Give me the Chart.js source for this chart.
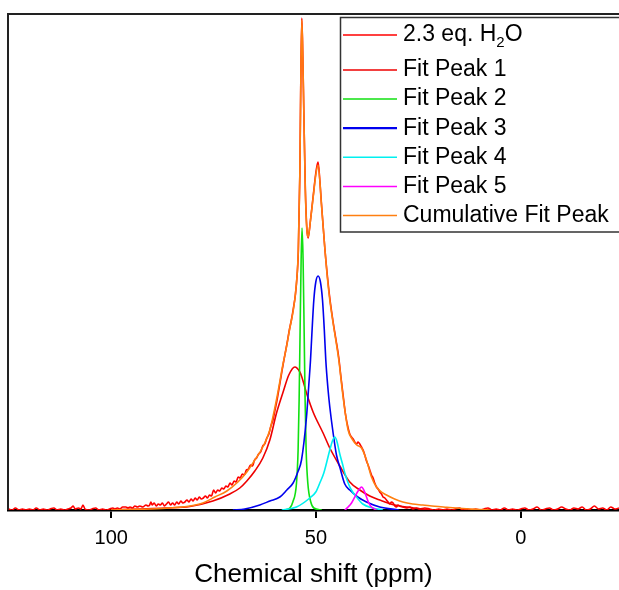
<!DOCTYPE html>
<html>
<head>
<meta charset="utf-8">
<script src="https://cdn.jsdelivr.net/npm/chart.js@4.4.0/dist/chart.umd.min.js"></script>
<style>
  html, body { margin: 0; padding: 0; background: #fff; overflow: hidden; }
  canvas { display: block; }
</style>
</head>
<body>
<canvas id="myChart" width="619" height="590"></canvas>
<script>
// valores (ppm, intensidad en u.a.)
const specPpm = [125.0,124.2,123.4,122.5,121.7,120.8,120.0,119.1,118.3,117.4,
  116.6,115.7,114.9,114.0,113.2,112.3,111.5,110.6,109.8,109.3,
  108.8,108.0,107.4,106.9,106.4,105.5,104.7,103.8,103.0,102.1,
  101.3,100.4,99.6,99.1,98.5,97.9,97.2,96.4,95.9,95.4,
  94.8,94.2,93.6,93.0,92.3,91.5,91.0,90.6,90.3,90.0,
  89.5,89.0,88.5,88.0,87.5,87.0,86.5,86.0,85.5,85.0,
  84.5,84.0,83.5,83.0,82.5,82.0,81.5,81.0,80.5,80.0,
  79.5,79.0,78.5,78.0,77.5,77.0,76.5,76.0,75.5,75.0,
  74.5,74.0,73.5,73.0,72.5,72.0,71.5,71.0,70.5,70.0,
  69.5,69.0,68.5,68.0,67.5,67.0,66.5,66.0,65.5,65.0,
  64.5,64.0,63.5,63.0,62.5,62.0,61.5,61.0,60.5,60.0,
  59.5,59.0,58.5,58.0,57.5,57.0,56.5,56.0,55.5,55.0,
  54.6,54.31,53.94,53.70,53.45,53.21,52.97,52.60,52.23,51.92,
  51.6,51.33,50.70,50.04,49.75,49.48,49.1,48.65,47.84,47.28,
  46.62,45.81,45.1,44.42,43.9,43.37,42.8,42.15,41.74,41.32,
  40.93,40.52,40.10,39.71,39.30,38.88,38.49,38.08,37.66,37.27,
  36.86,36.44,36.05,35.64,35.22,34.83,34.42,34.00,33.61,33.19,
  32.78,32.39,31.97,31.56,31.17,30.75,30.34,29.95,29.53,28.80,
  27.90,27.09,26.36,25.46,24.65,23.43,22.21,21.0,20.0,19.0,
  18.0,17.0,16.0,15.0,14.0,13.0,12.0,11.0,10.0,9.0,
  8.0,7.0,6.0,5.0,4.0,3.0,2.0,1.0,0.0,-1.0,
  -2.0,-3.0,-4.0,-5.0,-6.0,-7.0,-8.0,-9.0,-10.0,-11.0,
  -12.0,-13.0,-14.0,-15.0,-16.0,-17.0,-18.0,-19.0,-20.0,-21.0,
  -22.0,-23.0,-24.0]
const specInt = [1,0,2,0,1,0,1,0,2,0,
  1,0,1,2,0,1,0,1,2,4,
  1,2,1,5,1,0,1,2,0,1,
  0,1,2,1,2,1,3,3,2,3,
  2,4,3,4,3,5,4,5,8,5,
  7,4,6,5,7,4,6,8,5,7,
  5,8,6,9,7,8,10,8,11,9,
  12,10,13,11,12,14,12,15,14,20,
  17,20,19,22,21,24,23,27,25,29,
  28,33,32,36,35,40,41,45,44,50,
  52,56,58,64,66,72,76,84,90,100,
  110,122,134,146,157,168,180,190,202,216,
  235,258,335,430,492,454,400,322,282,272,
  280,290,313,337,344,348,332,306,262,237,
  212,188,170,152,133,115,96,82,76,73,
  71,68,66,68,66,63,60,55,49,45,
  40,35,32,27,23,21,18,16,13,12,
  10,8,6,8,7,4,3,5,4,3,
  2,3,1,2,1,2,1,0,1,0,
  1,0,1,2,0,1,0,1,0,1,
  2,0,1,0,2,0,1,0,1,2,
  0,1,3,0,1,2,0,1,3,1,
  0,2,1,3,0,1,4,1,2,0,
  3,1,2]

const fit1Ppm = [100.07,93.19,86.89,80.79,75.18,71.03,68.59,66.88,64.93,62.97,
  61.26,59.63,58.02,56.63,55.16,53.94,53.45,52.31,50.70,48.26,
  46.62,44.18,41.74,39.30,36.86,34.42,30.75,26.12,22.21]
const fit1Int = [0,1,2,3.5,9,16,22,29,39,52,
  70,97,118,135,143,138,133,117,98,77,
  62,44,28,20,14,10,5,2,0]

const fit2Ppm = [57.85,56.38,55.65,54.75,54.36,54.11,53.87,53.62,53.40,53.14,
  52.89,52.65,52.40,51.99,51.26,50.52,48.57]
const fit2Int = [0,2,8,27,60,110,180,250,282,250,
  180,110,60,27,8,2,0]

const fit3Ppm = [70.30,67.37,63.71,61.26,58.82,57.11,55.58,54.43,53.53,52.31,
  51.75,51.33,51.01,50.52,50.04,49.48,48.91,48.40,47.96,47.60,
  47.04,46.62,45.81,44.99,44.18,42.96,41.74,39.79,37.66,34.42,29.78]
const fit3Int = [0,1,5,9,13,20,27,38,50,93,
  125,150,175,210,228,234,228,210,180,150,
  120,103,77,55,43,26,20,13,8,3,0]

const fit4Ppm = [58.34,54.75,51.50,50.04,49.06,48.08,47.42,46.62,45.89,45.40,
  44.91,44.18,43.45,42.96,42.23,41.49,40.10,38.56,36.12,33.68]
const fit4Int = [0,3,12,18,27,37,47,60,70,73,
  69,56,45,37,28,21,13,6,2,0]

const fit5Ppm = [42.96,42.15,41.32,40.52,39.71,38.88,38.20,37.66,37.10,36.44,35.22]
const fit5Int = [0,3,7,13,19,23,19,13,7,3,0]

const cumPpm = [100.07,95.0,90.55,85.67,80.79,77.62,74.69,71.76,69.07,66.88,
  64.93,62.97,61.26,59.56,58.09,57.11,56.38,55.65,54.92,54.31,
  53.94,53.70,53.45,53.21,52.97,52.60,52.23,51.92,51.33,50.70,
  50.04,49.48,48.65,47.84,47.28,46.62,45.81,44.42,43.37,42.15,
  41.01,40.03,38.88,37.66,36.44,35.22,34.0,32.78,30.8,28.80,
  26.4,23.92,21.0,18.06,15.0,12.45,10.0,7.57]
const cumInt = [0,0.5,1,2,4,7,13,19,28,38,
  50,63,80,112,145,165,182,197,220,260,
  335,428,490,453,400,320,280,273,290,312,
  335,345,305,262,235,210,187,150,113,80,
  70,65,62,50,33,23,18,15,11,8,
  6,5,3.7,2.7,1.7,1,0.4,0]

const seriesLabels = ['2.3 eq. H₂O', 'Fit Peak 1', 'Fit Peak 2', 'Fit Peak 3', 'Fit Peak 4', 'Fit Peak 5', 'Cumulative Fit Peak']
const xTicks = [100, 50, 0]
const xTitle = 'Chemical shift (ppm)'

const fuente = '"Liberation Sans", Arial, sans-serif'

let puntos = function (ppm, inten) {
  return ppm.map((p, i) => ({ x: p, y: inten[i] }))
}

let serie = function (label, ppm, inten, color, orden) {
  return {
    label: label,
    data: puntos(ppm, inten),
    borderColor: color,
    backgroundColor: color,
    borderWidth: 1.6,
    pointRadius: 0,
    cubicInterpolationMode: 'monotone',
    order: orden
  }
}

// marco superior e izquierdo
const marco = {
  id: 'marco',
  beforeDatasetsDraw(chart) {
    const a = chart.chartArea
    const ctx = chart.ctx
    ctx.save()
    ctx.strokeStyle = '#222'
    ctx.lineWidth = 2
    ctx.beginPath()
    ctx.moveTo(a.left, a.bottom)
    ctx.lineTo(a.left, a.top)
    ctx.lineTo(a.right + 5, a.top)
    ctx.stroke()
    ctx.restore()
  }
}

// leyenda dibujada a mano (para el subindice de H2O)
const leyenda = {
  id: 'leyenda',
  afterDraw(chart) {
    const ctx = chart.ctx
    ctx.save()
    ctx.fillStyle = '#fff'
    ctx.fillRect(340.5, 17.5, 300, 214.5)
    ctx.strokeStyle = '#333'
    ctx.lineWidth = 1.5
    ctx.strokeRect(340.5, 17.5, 300, 214.5)
    ctx.textBaseline = 'middle'
    ctx.fillStyle = '#000'
    chart.data.datasets.forEach((ds, i) => {
      const y = i === 0 ? 35 : 70 + (i - 1) * 29.1
      ctx.strokeStyle = ds.borderColor
      ctx.lineWidth = i === 3 ? 2.2 : 1.5
      ctx.beginPath()
      ctx.moveTo(343, y)
      ctx.lineTo(397, y)
      ctx.stroke()
      let x = 403
      const partes = ds.label.split('₂')
      ctx.font = '23px ' + fuente
      ctx.fillText(partes[0], x, y)
      if (partes.length > 1) {
        x += ctx.measureText(partes[0]).width
        ctx.font = '15px ' + fuente
        ctx.fillText('2', x, y + 8)
        x += ctx.measureText('2').width
        ctx.font = '23px ' + fuente
        ctx.fillText(partes[1], x, y)
      }
    })
    ctx.restore()
  }
}

let miGrafico = new Chart('myChart', {
  type: 'line',
  data: {
    datasets: [
      serie(seriesLabels[0], specPpm, specInt, '#ff0000', 6),
      serie(seriesLabels[1], fit1Ppm, fit1Int, '#ee0000', 5),
      serie(seriesLabels[2], fit2Ppm, fit2Int, '#11e011', 4),
      serie(seriesLabels[3], fit3Ppm, fit3Int, '#0000ee', 3),
      serie(seriesLabels[4], fit4Ppm, fit4Int, '#00f0f0', 2),
      serie(seriesLabels[5], fit5Ppm, fit5Int, '#ff00ff', 1),
      serie(seriesLabels[6], cumPpm, cumInt, '#ff7f10', 0)
    ]
  },
  options: {
    responsive: false,
    animation: false,
    devicePixelRatio: 1,
    layout: { padding: { left: 8, right: 0, top: 14, bottom: 0 } },
    plugins: { legend: { display: false }, tooltip: { enabled: false } },
    scales: {
      x: {
        type: 'linear',
        reverse: true,
        min: -24,
        max: 125.2,
        z: 1,
        afterBuildTicks: s => { s.ticks = xTicks.map(v => ({ value: v })) },
        afterFit: s => { s.height = 80 },
        grid: { drawOnChartArea: false, drawTicks: true, tickLength: 8, color: '#000', lineWidth: 2 },
        border: { display: true, color: '#000', width: 2.5 },
        ticks: { color: '#000', font: { size: 20, family: fuente }, padding: 8, maxRotation: 0 },
        title: { display: true, text: xTitle, color: '#000', font: { size: 26, family: fuente }, padding: { top: 0, bottom: 0 } }
      },
      y: { display: false, min: 0, max: 496 }
    }
  },
  plugins: [marco, leyenda]
})
</script>
</body>
</html>
